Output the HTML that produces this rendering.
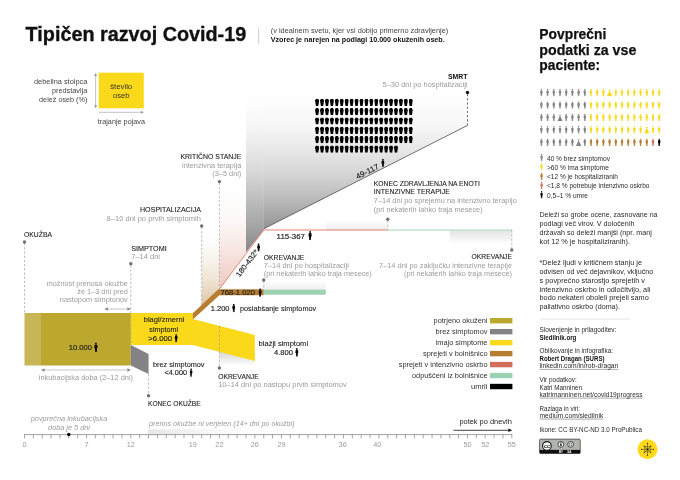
<!DOCTYPE html>
<html lang="sl"><head><meta charset="utf-8"><title>Tipičen razvoj Covid-19</title>
<style>
html,body{margin:0;padding:0;background:#fff}
body{width:680px;height:480px;overflow:hidden}
svg{display:block;will-change:transform;font-family:"Liberation Sans",sans-serif}
</style></head><body>
<svg width="680" height="480" viewBox="0 0 680 480">
<rect width="680" height="480" fill="#fff"/>
<defs>
<symbol id="p" viewBox="0 0 10 20" preserveAspectRatio="none"><circle cx="5" cy="2.3" r="2.15"/><path d="M1.8 5Q5 3.9 8.2 5L8.8 11.5 7.4 11.8 7 19.8H5.3L5 13 4.7 19.8H3L2.6 11.8 1.2 11.5z"/></symbol>
<symbol id="w" viewBox="0 0 10 20" preserveAspectRatio="none"><circle cx="5" cy="2.2" r="1.9"/><path d="M5 3.2L10 19.8H0z"/></symbol>
<symbol id="cof" viewBox="0 0 8 14"><path d="M2 0h4l2 3.6L6.2 14H1.8L0 3.6z"/></symbol>
<linearGradient id="gcol" gradientUnits="userSpaceOnUse" x1="0" y1="90" x2="0" y2="253"><stop offset="0" stop-color="#2e2e2e" stop-opacity="0"/><stop offset="0.061" stop-color="#2e2e2e" stop-opacity="0.005"/><stop offset="0.215" stop-color="#2e2e2e" stop-opacity="0.043"/><stop offset="0.368" stop-color="#2e2e2e" stop-opacity="0.11"/><stop offset="0.521" stop-color="#2e2e2e" stop-opacity="0.2"/><stop offset="0.675" stop-color="#2e2e2e" stop-opacity="0.316"/><stop offset="0.84" stop-color="#2e2e2e" stop-opacity="0.44"/><stop offset="0.92" stop-color="#2e2e2e" stop-opacity="0.512"/><stop offset="1" stop-color="#2e2e2e" stop-opacity="0.585"/></linearGradient>
<linearGradient id="gbig" gradientUnits="userSpaceOnUse" x1="0" y1="90" x2="0" y2="229"><stop offset="0" stop-color="#2e2e2e" stop-opacity="0"/><stop offset="0.072" stop-color="#2e2e2e" stop-opacity="0.005"/><stop offset="0.252" stop-color="#2e2e2e" stop-opacity="0.043"/><stop offset="0.432" stop-color="#2e2e2e" stop-opacity="0.11"/><stop offset="0.612" stop-color="#2e2e2e" stop-opacity="0.206"/><stop offset="0.791" stop-color="#2e2e2e" stop-opacity="0.335"/><stop offset="0.921" stop-color="#2e2e2e" stop-opacity="0.445"/><stop offset="1" stop-color="#2e2e2e" stop-opacity="0.52"/></linearGradient>
<linearGradient id="gpink" gradientUnits="userSpaceOnUse" x1="0" y1="190" x2="0" y2="289"><stop offset="0" stop-color="#d16e5a" stop-opacity="0"/><stop offset="0.3" stop-color="#d16e5a" stop-opacity="0.05"/><stop offset="0.6" stop-color="#d16e5a" stop-opacity="0.17"/><stop offset="0.73" stop-color="#d16e5a" stop-opacity="0.24"/><stop offset="0.91" stop-color="#d16e5a" stop-opacity="0.33"/><stop offset="1" stop-color="#d16e5a" stop-opacity="0.38"/></linearGradient>
<linearGradient id="gtan" gradientUnits="userSpaceOnUse" x1="0" y1="235" x2="0" y2="306"><stop offset="0" stop-color="#b67e33" stop-opacity="0"/><stop offset="0.14" stop-color="#b67e33" stop-opacity="0.03"/><stop offset="0.42" stop-color="#b67e33" stop-opacity="0.12"/><stop offset="0.63" stop-color="#b67e33" stop-opacity="0.21"/><stop offset="0.775" stop-color="#b67e33" stop-opacity="0.3"/><stop offset="1" stop-color="#b67e33" stop-opacity="0.45"/></linearGradient>
<linearGradient id="gdown" x1="0" y1="0" x2="0" y2="1"><stop offset="0" stop-color="#aaa" stop-opacity="0.5"/><stop offset="1" stop-color="#aaa" stop-opacity="0"/></linearGradient>
<linearGradient id="gdown2" x1="0" y1="0" x2="0" y2="1"><stop offset="0" stop-color="#aaa" stop-opacity="0.32"/><stop offset="1" stop-color="#aaa" stop-opacity="0"/></linearGradient>
<linearGradient id="gup" x1="0" y1="1" x2="0" y2="0"><stop offset="0" stop-color="#aaa" stop-opacity="0.2"/><stop offset="1" stop-color="#aaa" stop-opacity="0"/></linearGradient>
<linearGradient id="gright" x1="0" y1="0" x2="1" y2="0"><stop offset="0" stop-color="#bbb" stop-opacity="0.34"/><stop offset="1" stop-color="#bbb" stop-opacity="0"/></linearGradient>
</defs>
<text x="25.6" y="41.4" font-size="20.2" font-weight="bold" fill="#111" textLength="220.6" lengthAdjust="spacingAndGlyphs" stroke="#111" stroke-width="0.35">Tipičen razvoj Covid-19</text>
<line x1="258.7" y1="27.4" x2="258.7" y2="44" stroke="#bbb" stroke-width="0.7"/>
<text x="270.7" y="32.6" font-size="7.3" fill="#444" textLength="177.6" lengthAdjust="spacingAndGlyphs">(v idealnem svetu, kjer vsi dobijo primerno zdravljenje)</text>
<text x="270.7" y="42.2" font-size="7.3" font-weight="bold" fill="#111" textLength="174" lengthAdjust="spacingAndGlyphs">Vzorec je narejen na podlagi 10.000 okuženih oseb.</text>
<rect x="98.7" y="72.7" width="45.1" height="35.6" fill="#fad91a"/>
<text x="121.2" y="88.7" font-size="7.6" text-anchor="middle" fill="#333" textLength="22" lengthAdjust="spacingAndGlyphs">število</text>
<text x="121.2" y="97.5" font-size="7.6" text-anchor="middle" fill="#333" textLength="16.3" lengthAdjust="spacingAndGlyphs">oseb</text>
<text x="87.3" y="84" font-size="7.7" text-anchor="end" fill="#444" textLength="53.3" lengthAdjust="spacingAndGlyphs">debelina stolpca</text>
<text x="87.3" y="92.7" font-size="7.7" text-anchor="end" fill="#444" textLength="35.4" lengthAdjust="spacingAndGlyphs">predstavlja</text>
<text x="87.3" y="101.5" font-size="7.7" text-anchor="end" fill="#444" textLength="48.2" lengthAdjust="spacingAndGlyphs">delež oseb (%)</text>
<text x="97.8" y="124.4" font-size="7.5" fill="#444" textLength="47.2" lengthAdjust="spacingAndGlyphs">trajanje pojava</text>
<path d="M95.6 75v31.5" stroke="#989898" stroke-width="0.6" fill="none"/><path d="M95.6 73l1.5 3h-3zM95.6 108.3l1.5-3h-3z" fill="#989898"/>
<path d="M99 112.3h42" stroke="#989898" stroke-width="0.6" fill="none"/><path d="M143.8 112.3l-3 1.5v-3z" fill="#989898"/>
<polygon points="201.7,235 219.42,235 219.42,289.2 201.7,305.5" fill="url(#gtan)"/>
<polygon points="219.42,190 246.0,190 246.0,252.3 219.42,289" fill="url(#gpink)"/>
<polygon points="246.0,72 263.71999999999997,72 263.71999999999997,230 246.0,252.3" fill="url(#gcol)"/>
<polygon points="263.71999999999997,85 467.5,85 467.5,125.3 263.71999999999997,228.7" fill="url(#gbig)"/>
<line x1="263.71999999999997" y1="228.8" x2="467.5" y2="125.4" stroke="#333" stroke-width="0.7"/>
<rect x="219.42" y="351" width="35.44" height="15" fill="url(#gdown)"/>
<rect x="449.78" y="230.3" width="62.01999999999998" height="14" fill="url(#gdown2)"/>
<rect x="325.74" y="220.5" width="62.01999999999998" height="9.5" fill="url(#gup)"/>
<rect x="263.71999999999997" y="280.5" width="62.02000000000004" height="9.5" fill="url(#gup)"/>
<rect x="24.5" y="313" width="16.6" height="52.5" fill="#c8b556"/>
<rect x="40.9" y="313" width="89.91999999999999" height="52.5" fill="#bca72f"/>
<polygon points="130.82,345 148.54,354 148.54,374 130.82,365.5" fill="#838386"/>
<polygon points="130.82,313 192.83999999999997,313 192.83999999999997,319 254.85999999999999,335 254.85999999999999,361 192.83999999999997,345 130.82,345" fill="#fad91a"/>
<polygon points="192.83999999999997,313.2 218.3,289.2 263.71999999999997,289.2 263.71999999999997,295.2 219.3,295.2 192.83999999999997,319.5" fill="#b67e33"/>
<rect x="263.71999999999997" y="289.7" width="62.02000000000004" height="5" fill="#9ad2b2"/>
<polyline points="219.42,289.1 263.71999999999997,230 387.76,230" fill="none" stroke="#d9634d" stroke-width="0.8"/>
<line x1="387.76" y1="230" x2="511.79999999999995" y2="230" stroke="#9ad2b2" stroke-width="0.9"/>
<line x1="24.5" y1="243" x2="24.5" y2="313" stroke="#989898" stroke-width="0.65" stroke-dasharray="2.3 1.9"/>
<circle cx="24.5" cy="242" r="1.7" fill="#6f7079"/>
<line x1="130.82" y1="265" x2="130.82" y2="345" stroke="#989898" stroke-width="0.65" stroke-dasharray="2.3 1.9"/>
<circle cx="130.82" cy="263.8" r="1.7" fill="#6f7079"/>
<line x1="201.7" y1="227" x2="201.7" y2="305" stroke="#989898" stroke-width="0.65" stroke-dasharray="2.3 1.9"/>
<circle cx="201.7" cy="226" r="1.7" fill="#6f7079"/>
<line x1="219.42" y1="183" x2="219.42" y2="289" stroke="#989898" stroke-width="0.65" stroke-dasharray="2.3 1.9"/>
<line x1="219.42" y1="326" x2="219.42" y2="368" stroke="#989898" stroke-width="0.65" stroke-dasharray="2.3 1.9"/>
<circle cx="219.42" cy="181.6" r="1.7" fill="#6f7079"/>
<circle cx="219.42" cy="368" r="1.7" fill="#6f7079"/>
<line x1="263.71999999999997" y1="281" x2="263.71999999999997" y2="289" stroke="#989898" stroke-width="0.65" stroke-dasharray="2.3 1.9"/>
<circle cx="263.71999999999997" cy="280" r="1.7" fill="#6f7079"/>
<line x1="387.76" y1="220.5" x2="387.76" y2="230" stroke="#989898" stroke-width="0.65" stroke-dasharray="2.3 1.9"/>
<circle cx="387.76" cy="219.3" r="1.7" fill="#6f7079"/>
<line x1="467.5" y1="94" x2="467.5" y2="125.5" stroke="#222" stroke-width="0.65" stroke-dasharray="2.3 1.9"/>
<circle cx="467.5" cy="92.5" r="1.7" fill="#111"/>
<line x1="511.79999999999995" y1="230" x2="511.79999999999995" y2="249" stroke="#989898" stroke-width="0.65" stroke-dasharray="2.3 1.9"/>
<circle cx="511.79999999999995" cy="250" r="1.7" fill="#6f7079"/>
<line x1="148.54" y1="374" x2="148.54" y2="395" stroke="#989898" stroke-width="0.65" stroke-dasharray="2.3 1.9"/>
<circle cx="148.54" cy="395.8" r="1.7" fill="#6f7079"/>
<text x="24" y="237" font-size="7.2" fill="#1c1c1c" textLength="28" lengthAdjust="spacingAndGlyphs" stroke="#1c1c1c" stroke-width="0.1">OKUŽBA</text>
<text x="131.2" y="250.8" font-size="7.2" fill="#1c1c1c" textLength="35.5" lengthAdjust="spacingAndGlyphs" stroke="#1c1c1c" stroke-width="0.1">SIMPTOMI</text>
<text x="131.2" y="259" font-size="7.5" fill="#9b9b9b" textLength="28.8" lengthAdjust="spacingAndGlyphs">7–14 dni</text>
<text x="127.8" y="285.5" font-size="7.5" text-anchor="end" fill="#9b9b9b" textLength="81" lengthAdjust="spacingAndGlyphs">možnost prenosa okužbe</text>
<text x="127.8" y="294.2" font-size="7.5" text-anchor="end" fill="#9b9b9b" textLength="50.5" lengthAdjust="spacingAndGlyphs">že 1–3 dni pred</text>
<text x="127.8" y="302.1" font-size="7.5" text-anchor="end" fill="#9b9b9b" textLength="68" lengthAdjust="spacingAndGlyphs">nastopom simptonov</text>
<path d="M106.5 309h22.5" stroke="#989898" stroke-width="0.55"/><path d="M104.3 309l3.6-1.7v3.4zM131 309l-3.6-1.7v3.4z" fill="#8a8a8a"/>
<text x="68.8" y="350" font-size="7.7" fill="#1c1c1c" textLength="23.2" lengthAdjust="spacingAndGlyphs" stroke="#1c1c1c" stroke-width="0.15">10.000</text>
<use href="#p" x="93.80" y="342.50" width="4.28" height="9.50" preserveAspectRatio="none" fill="#000"/>
<path d="M43 370h86" stroke="#989898" stroke-width="0.55"/><path d="M41 370l3.6-1.7v3.4zM131 370l-3.6-1.7v3.4z" fill="#8a8a8a"/>
<text x="38.8" y="379.5" font-size="7.5" fill="#9b9b9b" textLength="94.2" lengthAdjust="spacingAndGlyphs">inkubacijska doba (2–12 dni)</text>
<text x="164" y="322.4" font-size="7.5" text-anchor="middle" fill="#1c1c1c" textLength="40.5" lengthAdjust="spacingAndGlyphs" stroke="#1c1c1c" stroke-width="0.1">blagi/zmerni</text>
<text x="163.7" y="331.7" font-size="7.5" text-anchor="middle" fill="#1c1c1c" textLength="28.8" lengthAdjust="spacingAndGlyphs" stroke="#1c1c1c" stroke-width="0.1">simptomi</text>
<text x="148.3" y="340.5" font-size="7.5" fill="#1c1c1c" textLength="23.7" lengthAdjust="spacingAndGlyphs" stroke="#1c1c1c" stroke-width="0.15">&gt;6.000</text>
<use href="#p" x="174.30" y="334.00" width="3.74" height="8.30" preserveAspectRatio="none" fill="#000"/>
<text x="153" y="366.6" font-size="7.5" fill="#1c1c1c" textLength="51.5" lengthAdjust="spacingAndGlyphs" stroke="#1c1c1c" stroke-width="0.1">brez simptomov</text>
<text x="164.5" y="375" font-size="7.5" fill="#1c1c1c" textLength="22.5" lengthAdjust="spacingAndGlyphs" stroke="#1c1c1c" stroke-width="0.15">&lt;4.000</text>
<use href="#p" x="189.30" y="368.20" width="3.60" height="8.70" preserveAspectRatio="none" fill="#000"/>
<text x="148" y="406" font-size="7.2" fill="#1c1c1c" textLength="52.6" lengthAdjust="spacingAndGlyphs" stroke="#1c1c1c" stroke-width="0.1">KONEC OKUŽBE</text>
<text x="218.2" y="379.1" font-size="7.2" fill="#1c1c1c" textLength="40.5" lengthAdjust="spacingAndGlyphs" stroke="#1c1c1c" stroke-width="0.1">OKREVANJE</text>
<text x="218.2" y="387.4" font-size="7.5" fill="#9b9b9b" textLength="128.5" lengthAdjust="spacingAndGlyphs">10–14 dni po nastopu prvih simptomov</text>
<text x="258.6" y="346.1" font-size="7.5" fill="#1c1c1c" textLength="49.5" lengthAdjust="spacingAndGlyphs" stroke="#1c1c1c" stroke-width="0.1">blažji simptomi</text>
<text x="274" y="355" font-size="7.5" fill="#1c1c1c" textLength="19" lengthAdjust="spacingAndGlyphs" stroke="#1c1c1c" stroke-width="0.15">4.800</text>
<use href="#p" x="294.90" y="348.00" width="3.90" height="8.80" preserveAspectRatio="none" fill="#000"/>
<text x="210.8" y="310.5" font-size="7.7" fill="#1c1c1c" textLength="18.7" lengthAdjust="spacingAndGlyphs" stroke="#1c1c1c" stroke-width="0.15">1.200</text>
<use href="#p" x="231.80" y="303.70" width="3.87" height="8.60" preserveAspectRatio="none" fill="#000"/>
<text x="240" y="310.5" font-size="7.5" fill="#1c1c1c" textLength="76.2" lengthAdjust="spacingAndGlyphs" stroke="#1c1c1c" stroke-width="0.1">poslabšanje simptomov</text>
<text x="220.4" y="294.8" font-size="7.5" fill="#1c1c1c" textLength="34.6" lengthAdjust="spacingAndGlyphs" stroke="#1c1c1c" stroke-width="0.15">768-1.020</text>
<use href="#p" x="258.20" y="288.30" width="3.87" height="8.60" preserveAspectRatio="none" fill="#000"/>
<text x="276.6" y="238.8" font-size="7.5" fill="#1c1c1c" textLength="28.4" lengthAdjust="spacingAndGlyphs" stroke="#1c1c1c" stroke-width="0.15">115-367</text>
<use href="#p" x="308.00" y="231.00" width="4.19" height="9.30" preserveAspectRatio="none" fill="#000"/>
<g transform="rotate(-53 239.5 277.5)">
<text x="239.5" y="277.5" font-size="7.5" fill="#1c1c1c" textLength="32" lengthAdjust="spacingAndGlyphs" stroke="#1c1c1c" stroke-width="0.15">180-432*</text>
</g>
<use href="#p" x="256.70" y="243.30" width="3.78" height="8.40" preserveAspectRatio="none" fill="#000"/>
<g transform="rotate(-26.6 357.5 179.3)">
<text x="357.5" y="179.3" font-size="7.5" fill="#1c1c1c" textLength="24.5" lengthAdjust="spacingAndGlyphs" stroke="#1c1c1c" stroke-width="0.15">49-117</text>
</g>
<use href="#p" x="381.00" y="158.70" width="3.83" height="8.50" preserveAspectRatio="none" fill="#000"/>
<text x="263.8" y="259.5" font-size="7.2" fill="#1c1c1c" textLength="40.5" lengthAdjust="spacingAndGlyphs" stroke="#1c1c1c" stroke-width="0.1">OKREVANJE</text>
<text x="263.8" y="268" font-size="7.5" fill="#9b9b9b" textLength="85" lengthAdjust="spacingAndGlyphs">7–14 dni po hospitalizaciji</text>
<text x="263.8" y="275.8" font-size="7.5" fill="#9b9b9b" textLength="108" lengthAdjust="spacingAndGlyphs">(pri nekaterih lahko traja mesece)</text>
<text x="201" y="212.3" font-size="7.2" text-anchor="end" fill="#1c1c1c" textLength="61" lengthAdjust="spacingAndGlyphs" stroke="#1c1c1c" stroke-width="0.1">HOSPITALIZACIJA</text>
<text x="201" y="220.8" font-size="7.5" text-anchor="end" fill="#9b9b9b" textLength="94.4" lengthAdjust="spacingAndGlyphs">8–10 dni po prvih simptomih</text>
<text x="241.3" y="158.6" font-size="7.2" text-anchor="end" fill="#1c1c1c" textLength="60.8" lengthAdjust="spacingAndGlyphs" stroke="#1c1c1c" stroke-width="0.1">KRITIČNO STANJE</text>
<text x="241.3" y="167.6" font-size="7.5" text-anchor="end" fill="#9b9b9b" textLength="59.3" lengthAdjust="spacingAndGlyphs">intenzivna terapija</text>
<text x="241.3" y="175.8" font-size="7.5" text-anchor="end" fill="#9b9b9b" textLength="29" lengthAdjust="spacingAndGlyphs">(3–5 dni)</text>
<text x="467.5" y="79" font-size="7.4" text-anchor="end" font-weight="bold" fill="#111" textLength="19.5" lengthAdjust="spacingAndGlyphs">SMRT</text>
<text x="467.5" y="87.3" font-size="7.5" text-anchor="end" fill="#9b9b9b" textLength="85" lengthAdjust="spacingAndGlyphs">5–30 dni po hospitalizaciji</text>
<text x="373.8" y="185.8" font-size="7.2" fill="#1c1c1c" textLength="106" lengthAdjust="spacingAndGlyphs" stroke="#1c1c1c" stroke-width="0.1">KONEC ZDRAVLJENJA NA ENOTI</text>
<text x="373.8" y="193.8" font-size="7.2" fill="#1c1c1c" textLength="76" lengthAdjust="spacingAndGlyphs" stroke="#1c1c1c" stroke-width="0.1">INTENZIVNE TERAPIJE</text>
<text x="373.8" y="203.4" font-size="7.5" fill="#9b9b9b" textLength="143" lengthAdjust="spacingAndGlyphs">7–14 dni po sprejemu na intenzivno terapijo</text>
<text x="373.8" y="211.7" font-size="7.5" fill="#9b9b9b" textLength="108.8" lengthAdjust="spacingAndGlyphs">(pri nekaterih lahko traja mesece)</text>
<text x="512" y="259" font-size="7.2" text-anchor="end" fill="#1c1c1c" textLength="40.5" lengthAdjust="spacingAndGlyphs" stroke="#1c1c1c" stroke-width="0.1">OKREVANJE</text>
<text x="512" y="267.7" font-size="7.5" text-anchor="end" fill="#9b9b9b" textLength="133" lengthAdjust="spacingAndGlyphs">7–14 dni po zaključku intenzivne terapije</text>
<text x="512" y="275.5" font-size="7.5" text-anchor="end" fill="#9b9b9b" textLength="108" lengthAdjust="spacingAndGlyphs">(pri nekaterih lahko traja mesece)</text>
<use href="#cof" x="315.00" y="98.70" width="4.2" height="7.2"/>
<use href="#cof" x="319.93" y="98.70" width="4.2" height="7.2"/>
<use href="#cof" x="324.86" y="98.70" width="4.2" height="7.2"/>
<use href="#cof" x="329.79" y="98.70" width="4.2" height="7.2"/>
<use href="#cof" x="334.72" y="98.70" width="4.2" height="7.2"/>
<use href="#cof" x="339.65" y="98.70" width="4.2" height="7.2"/>
<use href="#cof" x="344.58" y="98.70" width="4.2" height="7.2"/>
<use href="#cof" x="349.51" y="98.70" width="4.2" height="7.2"/>
<use href="#cof" x="354.44" y="98.70" width="4.2" height="7.2"/>
<use href="#cof" x="359.37" y="98.70" width="4.2" height="7.2"/>
<use href="#cof" x="364.30" y="98.70" width="4.2" height="7.2"/>
<use href="#cof" x="369.23" y="98.70" width="4.2" height="7.2"/>
<use href="#cof" x="374.16" y="98.70" width="4.2" height="7.2"/>
<use href="#cof" x="379.09" y="98.70" width="4.2" height="7.2"/>
<use href="#cof" x="384.02" y="98.70" width="4.2" height="7.2"/>
<use href="#cof" x="388.95" y="98.70" width="4.2" height="7.2"/>
<use href="#cof" x="393.88" y="98.70" width="4.2" height="7.2"/>
<use href="#cof" x="398.81" y="98.70" width="4.2" height="7.2"/>
<use href="#cof" x="403.74" y="98.70" width="4.2" height="7.2"/>
<use href="#cof" x="408.67" y="98.70" width="4.2" height="7.2"/>
<use href="#cof" x="315.00" y="108.05" width="4.2" height="7.2"/>
<use href="#cof" x="319.93" y="108.05" width="4.2" height="7.2"/>
<use href="#cof" x="324.86" y="108.05" width="4.2" height="7.2"/>
<use href="#cof" x="329.79" y="108.05" width="4.2" height="7.2"/>
<use href="#cof" x="334.72" y="108.05" width="4.2" height="7.2"/>
<use href="#cof" x="339.65" y="108.05" width="4.2" height="7.2"/>
<use href="#cof" x="344.58" y="108.05" width="4.2" height="7.2"/>
<use href="#cof" x="349.51" y="108.05" width="4.2" height="7.2"/>
<use href="#cof" x="354.44" y="108.05" width="4.2" height="7.2"/>
<use href="#cof" x="359.37" y="108.05" width="4.2" height="7.2"/>
<use href="#cof" x="364.30" y="108.05" width="4.2" height="7.2"/>
<use href="#cof" x="369.23" y="108.05" width="4.2" height="7.2"/>
<use href="#cof" x="374.16" y="108.05" width="4.2" height="7.2"/>
<use href="#cof" x="379.09" y="108.05" width="4.2" height="7.2"/>
<use href="#cof" x="384.02" y="108.05" width="4.2" height="7.2"/>
<use href="#cof" x="388.95" y="108.05" width="4.2" height="7.2"/>
<use href="#cof" x="393.88" y="108.05" width="4.2" height="7.2"/>
<use href="#cof" x="398.81" y="108.05" width="4.2" height="7.2"/>
<use href="#cof" x="403.74" y="108.05" width="4.2" height="7.2"/>
<use href="#cof" x="408.67" y="108.05" width="4.2" height="7.2"/>
<use href="#cof" x="315.00" y="117.40" width="4.2" height="7.2"/>
<use href="#cof" x="319.93" y="117.40" width="4.2" height="7.2"/>
<use href="#cof" x="324.86" y="117.40" width="4.2" height="7.2"/>
<use href="#cof" x="329.79" y="117.40" width="4.2" height="7.2"/>
<use href="#cof" x="334.72" y="117.40" width="4.2" height="7.2"/>
<use href="#cof" x="339.65" y="117.40" width="4.2" height="7.2"/>
<use href="#cof" x="344.58" y="117.40" width="4.2" height="7.2"/>
<use href="#cof" x="349.51" y="117.40" width="4.2" height="7.2"/>
<use href="#cof" x="354.44" y="117.40" width="4.2" height="7.2"/>
<use href="#cof" x="359.37" y="117.40" width="4.2" height="7.2"/>
<use href="#cof" x="364.30" y="117.40" width="4.2" height="7.2"/>
<use href="#cof" x="369.23" y="117.40" width="4.2" height="7.2"/>
<use href="#cof" x="374.16" y="117.40" width="4.2" height="7.2"/>
<use href="#cof" x="379.09" y="117.40" width="4.2" height="7.2"/>
<use href="#cof" x="384.02" y="117.40" width="4.2" height="7.2"/>
<use href="#cof" x="388.95" y="117.40" width="4.2" height="7.2"/>
<use href="#cof" x="393.88" y="117.40" width="4.2" height="7.2"/>
<use href="#cof" x="398.81" y="117.40" width="4.2" height="7.2"/>
<use href="#cof" x="403.74" y="117.40" width="4.2" height="7.2"/>
<use href="#cof" x="408.67" y="117.40" width="4.2" height="7.2"/>
<use href="#cof" x="315.00" y="126.75" width="4.2" height="7.2"/>
<use href="#cof" x="319.93" y="126.75" width="4.2" height="7.2"/>
<use href="#cof" x="324.86" y="126.75" width="4.2" height="7.2"/>
<use href="#cof" x="329.79" y="126.75" width="4.2" height="7.2"/>
<use href="#cof" x="334.72" y="126.75" width="4.2" height="7.2"/>
<use href="#cof" x="339.65" y="126.75" width="4.2" height="7.2"/>
<use href="#cof" x="344.58" y="126.75" width="4.2" height="7.2"/>
<use href="#cof" x="349.51" y="126.75" width="4.2" height="7.2"/>
<use href="#cof" x="354.44" y="126.75" width="4.2" height="7.2"/>
<use href="#cof" x="359.37" y="126.75" width="4.2" height="7.2"/>
<use href="#cof" x="364.30" y="126.75" width="4.2" height="7.2"/>
<use href="#cof" x="369.23" y="126.75" width="4.2" height="7.2"/>
<use href="#cof" x="374.16" y="126.75" width="4.2" height="7.2"/>
<use href="#cof" x="379.09" y="126.75" width="4.2" height="7.2"/>
<use href="#cof" x="384.02" y="126.75" width="4.2" height="7.2"/>
<use href="#cof" x="388.95" y="126.75" width="4.2" height="7.2"/>
<use href="#cof" x="393.88" y="126.75" width="4.2" height="7.2"/>
<use href="#cof" x="398.81" y="126.75" width="4.2" height="7.2"/>
<use href="#cof" x="403.74" y="126.75" width="4.2" height="7.2"/>
<use href="#cof" x="408.67" y="126.75" width="4.2" height="7.2"/>
<use href="#cof" x="315.00" y="136.10" width="4.2" height="7.2"/>
<use href="#cof" x="319.93" y="136.10" width="4.2" height="7.2"/>
<use href="#cof" x="324.86" y="136.10" width="4.2" height="7.2"/>
<use href="#cof" x="329.79" y="136.10" width="4.2" height="7.2"/>
<use href="#cof" x="334.72" y="136.10" width="4.2" height="7.2"/>
<use href="#cof" x="339.65" y="136.10" width="4.2" height="7.2"/>
<use href="#cof" x="344.58" y="136.10" width="4.2" height="7.2"/>
<use href="#cof" x="349.51" y="136.10" width="4.2" height="7.2"/>
<use href="#cof" x="354.44" y="136.10" width="4.2" height="7.2"/>
<use href="#cof" x="359.37" y="136.10" width="4.2" height="7.2"/>
<use href="#cof" x="364.30" y="136.10" width="4.2" height="7.2"/>
<use href="#cof" x="369.23" y="136.10" width="4.2" height="7.2"/>
<use href="#cof" x="374.16" y="136.10" width="4.2" height="7.2"/>
<use href="#cof" x="379.09" y="136.10" width="4.2" height="7.2"/>
<use href="#cof" x="384.02" y="136.10" width="4.2" height="7.2"/>
<use href="#cof" x="388.95" y="136.10" width="4.2" height="7.2"/>
<use href="#cof" x="393.88" y="136.10" width="4.2" height="7.2"/>
<use href="#cof" x="398.81" y="136.10" width="4.2" height="7.2"/>
<use href="#cof" x="403.74" y="136.10" width="4.2" height="7.2"/>
<use href="#cof" x="408.67" y="136.10" width="4.2" height="7.2"/>
<use href="#cof" x="315.00" y="145.45" width="4.2" height="7.2"/>
<use href="#cof" x="319.93" y="145.45" width="4.2" height="7.2"/>
<use href="#cof" x="324.86" y="145.45" width="4.2" height="7.2"/>
<use href="#cof" x="329.79" y="145.45" width="4.2" height="7.2"/>
<use href="#cof" x="334.72" y="145.45" width="4.2" height="7.2"/>
<use href="#cof" x="339.65" y="145.45" width="4.2" height="7.2"/>
<use href="#cof" x="344.58" y="145.45" width="4.2" height="7.2"/>
<use href="#cof" x="349.51" y="145.45" width="4.2" height="7.2"/>
<use href="#cof" x="354.44" y="145.45" width="4.2" height="7.2"/>
<use href="#cof" x="359.37" y="145.45" width="4.2" height="7.2"/>
<use href="#cof" x="364.30" y="145.45" width="4.2" height="7.2"/>
<use href="#cof" x="369.23" y="145.45" width="4.2" height="7.2"/>
<use href="#cof" x="374.16" y="145.45" width="4.2" height="7.2"/>
<use href="#cof" x="379.09" y="145.45" width="4.2" height="7.2"/>
<use href="#cof" x="384.02" y="145.45" width="4.2" height="7.2"/>
<use href="#cof" x="388.95" y="145.45" width="4.2" height="7.2"/>
<use href="#cof" x="393.88" y="145.45" width="4.2" height="7.2"/>
<rect x="490" y="318.00" width="22.4" height="5.4" fill="#bca72f"/>
<text x="487.5" y="323.3" font-size="7.5" text-anchor="end" fill="#333" textLength="53.9" lengthAdjust="spacingAndGlyphs">potrjeno okuženi</text>
<rect x="490" y="328.97" width="22.4" height="5.4" fill="#838386"/>
<text x="487.5" y="334.27" font-size="7.5" text-anchor="end" fill="#333" textLength="51.9" lengthAdjust="spacingAndGlyphs">brez simptomov</text>
<rect x="490" y="339.94" width="22.4" height="5.4" fill="#fad91a"/>
<text x="487.5" y="345.24" font-size="7.5" text-anchor="end" fill="#333" textLength="51.9" lengthAdjust="spacingAndGlyphs">imajo simptome</text>
<rect x="490" y="350.91" width="22.4" height="5.4" fill="#b67e33"/>
<text x="487.5" y="356.21" font-size="7.5" text-anchor="end" fill="#333" textLength="64.5" lengthAdjust="spacingAndGlyphs">sprejeti v bolnišnico</text>
<rect x="490" y="361.88" width="22.4" height="5.4" fill="#d16e5a"/>
<text x="487.5" y="367.18" font-size="7.5" text-anchor="end" fill="#333" textLength="88.7" lengthAdjust="spacingAndGlyphs">sprejeti v intenzivno oskrbo</text>
<rect x="490" y="372.85" width="22.4" height="5.4" fill="#9ad2b2"/>
<text x="487.5" y="378.15" font-size="7.5" text-anchor="end" fill="#333" textLength="75.5" lengthAdjust="spacingAndGlyphs">odpuščeni iz bolnišnice</text>
<rect x="490" y="383.82" width="22.4" height="5.4" fill="#000"/>
<text x="487.5" y="389.12" font-size="7.5" text-anchor="end" fill="#333" textLength="16.6" lengthAdjust="spacingAndGlyphs">umrli</text>
<rect x="148" y="429.2" width="95" height="5.2" fill="url(#gright)"/>
<text x="69" y="421.2" font-size="7.3" text-anchor="middle" font-style="italic" fill="#9b9b9b" textLength="76.5" lengthAdjust="spacingAndGlyphs">povprečna inkubacijska</text>
<text x="69" y="430" font-size="7.3" text-anchor="middle" font-style="italic" fill="#9b9b9b">doba je 5 dni</text>
<text x="149" y="425.6" font-size="7.3" font-style="italic" fill="#9b9b9b" textLength="145.6" lengthAdjust="spacingAndGlyphs">prenos okužbe ni verjeten (14+ dni po okužbi)</text>
<line x1="24.1" y1="434.6" x2="512.1999999999999" y2="434.6" stroke="#858585" stroke-width="0.8"/>
<path d="M24.50 434.6v3.7M33.36 434.6v3.7M42.22 434.6v3.7M51.08 434.6v3.7M59.94 434.6v3.7M68.80 434.6v3.7M77.66 434.6v3.7M86.52 434.6v3.7M95.38 434.6v3.7M104.24 434.6v3.7M113.10 434.6v3.7M121.96 434.6v3.7M130.82 434.6v3.7M139.68 434.6v3.7M148.54 434.6v3.7M157.40 434.6v3.7M166.26 434.6v3.7M175.12 434.6v3.7M183.98 434.6v3.7M192.84 434.6v3.7M201.70 434.6v3.7M210.56 434.6v3.7M219.42 434.6v3.7M228.28 434.6v3.7M237.14 434.6v3.7M246.00 434.6v3.7M254.86 434.6v3.7M263.72 434.6v3.7M272.58 434.6v3.7M281.44 434.6v3.7M290.30 434.6v3.7M299.16 434.6v3.7M308.02 434.6v3.7M316.88 434.6v3.7M325.74 434.6v3.7M334.60 434.6v3.7M343.46 434.6v3.7M352.32 434.6v3.7M361.18 434.6v3.7M370.04 434.6v3.7M378.90 434.6v3.7M387.76 434.6v3.7M396.62 434.6v3.7M405.48 434.6v3.7M414.34 434.6v3.7M423.20 434.6v3.7M432.06 434.6v3.7M440.92 434.6v3.7M449.78 434.6v3.7M458.64 434.6v3.7M467.50 434.6v3.7M476.36 434.6v3.7M485.22 434.6v3.7M494.08 434.6v3.7M502.94 434.6v3.7M511.80 434.6v3.7" stroke="#8f8f8f" stroke-width="0.8" fill="none"/>
<text x="24.5" y="446.8" font-size="7.3" text-anchor="middle" fill="#9b9b9b">0</text>
<text x="86.52" y="446.8" font-size="7.3" text-anchor="middle" fill="#9b9b9b">7</text>
<text x="130.82" y="446.8" font-size="7.3" text-anchor="middle" fill="#9b9b9b">12</text>
<text x="192.84" y="446.8" font-size="7.3" text-anchor="middle" fill="#9b9b9b">19</text>
<text x="219.42" y="446.8" font-size="7.3" text-anchor="middle" fill="#9b9b9b">22</text>
<text x="254.86" y="446.8" font-size="7.3" text-anchor="middle" fill="#9b9b9b">26</text>
<text x="281.44" y="446.8" font-size="7.3" text-anchor="middle" fill="#9b9b9b">29</text>
<text x="342.66" y="446.8" font-size="7.3" text-anchor="middle" fill="#9b9b9b">36</text>
<text x="377.3" y="446.8" font-size="7.3" text-anchor="middle" fill="#9b9b9b">40</text>
<text x="467.5" y="446.8" font-size="7.3" text-anchor="middle" fill="#9b9b9b">50</text>
<text x="485.22" y="446.8" font-size="7.3" text-anchor="middle" fill="#9b9b9b">52</text>
<text x="511.8" y="446.8" font-size="7.3" text-anchor="middle" fill="#9b9b9b">55</text>
<circle cx="68.8" cy="434.5" r="1.7" fill="#000"/>
<text x="511.8" y="424.4" font-size="7.5" text-anchor="end" fill="#222" textLength="52.4" lengthAdjust="spacingAndGlyphs">potek po dnevih</text>
<path d="M453.5 430.3h55" stroke="#111" stroke-width="0.8"/><path d="M512.3 430.3l-4-1.8v3.6z" fill="#111"/>
<text x="539.3" y="38.8" font-size="14" font-weight="bold" fill="#111" textLength="67" lengthAdjust="spacingAndGlyphs" stroke="#111" stroke-width="0.25">Povprečni</text>
<text x="539.3" y="54.9" font-size="14" font-weight="bold" fill="#111" textLength="97" lengthAdjust="spacingAndGlyphs" stroke="#111" stroke-width="0.25">podatki za vse</text>
<text x="539.3" y="70.3" font-size="14" font-weight="bold" fill="#111" textLength="60.8" lengthAdjust="spacingAndGlyphs" stroke="#111" stroke-width="0.25">paciente:</text>
<use href="#p" x="539.70" y="88.80" width="3.40" height="7.60" preserveAspectRatio="none" fill="#838386"/>
<use href="#p" x="545.90" y="88.80" width="3.40" height="7.60" preserveAspectRatio="none" fill="#838386"/>
<use href="#p" x="552.10" y="88.80" width="3.40" height="7.60" preserveAspectRatio="none" fill="#838386"/>
<use href="#p" x="558.30" y="88.80" width="3.40" height="7.60" preserveAspectRatio="none" fill="#838386"/>
<use href="#p" x="564.50" y="88.80" width="3.40" height="7.60" preserveAspectRatio="none" fill="#838386"/>
<use href="#p" x="570.70" y="88.80" width="3.40" height="7.60" preserveAspectRatio="none" fill="#838386"/>
<use href="#p" x="576.90" y="88.80" width="3.40" height="7.60" preserveAspectRatio="none" fill="#838386"/>
<use href="#p" x="583.10" y="88.80" width="3.40" height="7.60" preserveAspectRatio="none" fill="#838386"/>
<use href="#p" x="589.30" y="88.80" width="3.40" height="7.60" preserveAspectRatio="none" fill="#fad91a"/>
<use href="#p" x="595.50" y="88.80" width="3.40" height="7.60" preserveAspectRatio="none" fill="#fad91a"/>
<use href="#p" x="601.70" y="88.80" width="3.40" height="7.60" preserveAspectRatio="none" fill="#fad91a"/>
<use href="#w" x="606.90" y="89.50" width="5.40" height="6.90" preserveAspectRatio="none" fill="#fad91a"/>
<use href="#p" x="614.10" y="88.80" width="3.40" height="7.60" preserveAspectRatio="none" fill="#fad91a"/>
<use href="#p" x="620.30" y="88.80" width="3.40" height="7.60" preserveAspectRatio="none" fill="#fad91a"/>
<use href="#p" x="626.50" y="88.80" width="3.40" height="7.60" preserveAspectRatio="none" fill="#fad91a"/>
<use href="#p" x="632.70" y="88.80" width="3.40" height="7.60" preserveAspectRatio="none" fill="#fad91a"/>
<use href="#p" x="638.90" y="88.80" width="3.40" height="7.60" preserveAspectRatio="none" fill="#fad91a"/>
<use href="#p" x="645.10" y="88.80" width="3.40" height="7.60" preserveAspectRatio="none" fill="#fad91a"/>
<use href="#p" x="651.30" y="88.80" width="3.40" height="7.60" preserveAspectRatio="none" fill="#fad91a"/>
<use href="#p" x="657.50" y="88.80" width="3.40" height="7.60" preserveAspectRatio="none" fill="#fad91a"/>
<use href="#p" x="539.70" y="101.20" width="3.40" height="7.60" preserveAspectRatio="none" fill="#838386"/>
<use href="#p" x="545.90" y="101.20" width="3.40" height="7.60" preserveAspectRatio="none" fill="#838386"/>
<use href="#p" x="552.10" y="101.20" width="3.40" height="7.60" preserveAspectRatio="none" fill="#838386"/>
<use href="#p" x="558.30" y="101.20" width="3.40" height="7.60" preserveAspectRatio="none" fill="#838386"/>
<use href="#p" x="564.50" y="101.20" width="3.40" height="7.60" preserveAspectRatio="none" fill="#838386"/>
<use href="#p" x="570.70" y="101.20" width="3.40" height="7.60" preserveAspectRatio="none" fill="#838386"/>
<use href="#p" x="576.90" y="101.20" width="3.40" height="7.60" preserveAspectRatio="none" fill="#838386"/>
<use href="#p" x="583.10" y="101.20" width="3.40" height="7.60" preserveAspectRatio="none" fill="#838386"/>
<use href="#p" x="589.30" y="101.20" width="3.40" height="7.60" preserveAspectRatio="none" fill="#fad91a"/>
<use href="#p" x="595.50" y="101.20" width="3.40" height="7.60" preserveAspectRatio="none" fill="#fad91a"/>
<use href="#p" x="601.70" y="101.20" width="3.40" height="7.60" preserveAspectRatio="none" fill="#fad91a"/>
<use href="#p" x="607.90" y="101.20" width="3.40" height="7.60" preserveAspectRatio="none" fill="#fad91a"/>
<use href="#p" x="614.10" y="101.20" width="3.40" height="7.60" preserveAspectRatio="none" fill="#fad91a"/>
<use href="#p" x="620.30" y="101.20" width="3.40" height="7.60" preserveAspectRatio="none" fill="#fad91a"/>
<use href="#p" x="626.50" y="101.20" width="3.40" height="7.60" preserveAspectRatio="none" fill="#fad91a"/>
<use href="#p" x="632.70" y="101.20" width="3.40" height="7.60" preserveAspectRatio="none" fill="#fad91a"/>
<use href="#p" x="638.90" y="101.20" width="3.40" height="7.60" preserveAspectRatio="none" fill="#fad91a"/>
<use href="#p" x="645.10" y="101.20" width="3.40" height="7.60" preserveAspectRatio="none" fill="#fad91a"/>
<use href="#p" x="651.30" y="101.20" width="3.40" height="7.60" preserveAspectRatio="none" fill="#fad91a"/>
<use href="#p" x="657.50" y="101.20" width="3.40" height="7.60" preserveAspectRatio="none" fill="#fad91a"/>
<use href="#p" x="539.70" y="113.60" width="3.40" height="7.60" preserveAspectRatio="none" fill="#838386"/>
<use href="#p" x="545.90" y="113.60" width="3.40" height="7.60" preserveAspectRatio="none" fill="#838386"/>
<use href="#p" x="552.10" y="113.60" width="3.40" height="7.60" preserveAspectRatio="none" fill="#838386"/>
<use href="#w" x="557.30" y="114.30" width="5.40" height="6.90" preserveAspectRatio="none" fill="#838386"/>
<use href="#p" x="564.50" y="113.60" width="3.40" height="7.60" preserveAspectRatio="none" fill="#838386"/>
<use href="#p" x="570.70" y="113.60" width="3.40" height="7.60" preserveAspectRatio="none" fill="#838386"/>
<use href="#p" x="576.90" y="113.60" width="3.40" height="7.60" preserveAspectRatio="none" fill="#838386"/>
<use href="#p" x="583.10" y="113.60" width="3.40" height="7.60" preserveAspectRatio="none" fill="#838386"/>
<use href="#p" x="589.30" y="113.60" width="3.40" height="7.60" preserveAspectRatio="none" fill="#fad91a"/>
<use href="#p" x="595.50" y="113.60" width="3.40" height="7.60" preserveAspectRatio="none" fill="#fad91a"/>
<use href="#p" x="601.70" y="113.60" width="3.40" height="7.60" preserveAspectRatio="none" fill="#fad91a"/>
<use href="#p" x="607.90" y="113.60" width="3.40" height="7.60" preserveAspectRatio="none" fill="#fad91a"/>
<use href="#p" x="614.10" y="113.60" width="3.40" height="7.60" preserveAspectRatio="none" fill="#fad91a"/>
<use href="#p" x="620.30" y="113.60" width="3.40" height="7.60" preserveAspectRatio="none" fill="#fad91a"/>
<use href="#p" x="626.50" y="113.60" width="3.40" height="7.60" preserveAspectRatio="none" fill="#fad91a"/>
<use href="#p" x="632.70" y="113.60" width="3.40" height="7.60" preserveAspectRatio="none" fill="#fad91a"/>
<use href="#p" x="638.90" y="113.60" width="3.40" height="7.60" preserveAspectRatio="none" fill="#fad91a"/>
<use href="#p" x="645.10" y="113.60" width="3.40" height="7.60" preserveAspectRatio="none" fill="#fad91a"/>
<use href="#p" x="651.30" y="113.60" width="3.40" height="7.60" preserveAspectRatio="none" fill="#fad91a"/>
<use href="#p" x="657.50" y="113.60" width="3.40" height="7.60" preserveAspectRatio="none" fill="#fad91a"/>
<use href="#p" x="539.70" y="126.00" width="3.40" height="7.60" preserveAspectRatio="none" fill="#838386"/>
<use href="#p" x="545.90" y="126.00" width="3.40" height="7.60" preserveAspectRatio="none" fill="#838386"/>
<use href="#p" x="552.10" y="126.00" width="3.40" height="7.60" preserveAspectRatio="none" fill="#838386"/>
<use href="#p" x="558.30" y="126.00" width="3.40" height="7.60" preserveAspectRatio="none" fill="#838386"/>
<use href="#p" x="564.50" y="126.00" width="3.40" height="7.60" preserveAspectRatio="none" fill="#838386"/>
<use href="#p" x="570.70" y="126.00" width="3.40" height="7.60" preserveAspectRatio="none" fill="#838386"/>
<use href="#p" x="576.90" y="126.00" width="3.40" height="7.60" preserveAspectRatio="none" fill="#838386"/>
<use href="#p" x="583.10" y="126.00" width="3.40" height="7.60" preserveAspectRatio="none" fill="#838386"/>
<use href="#p" x="589.30" y="126.00" width="3.40" height="7.60" preserveAspectRatio="none" fill="#fad91a"/>
<use href="#p" x="595.50" y="126.00" width="3.40" height="7.60" preserveAspectRatio="none" fill="#fad91a"/>
<use href="#p" x="601.70" y="126.00" width="3.40" height="7.60" preserveAspectRatio="none" fill="#fad91a"/>
<use href="#p" x="607.90" y="126.00" width="3.40" height="7.60" preserveAspectRatio="none" fill="#fad91a"/>
<use href="#p" x="614.10" y="126.00" width="3.40" height="7.60" preserveAspectRatio="none" fill="#fad91a"/>
<use href="#p" x="620.30" y="126.00" width="3.40" height="7.60" preserveAspectRatio="none" fill="#fad91a"/>
<use href="#p" x="626.50" y="126.00" width="3.40" height="7.60" preserveAspectRatio="none" fill="#fad91a"/>
<use href="#p" x="632.70" y="126.00" width="3.40" height="7.60" preserveAspectRatio="none" fill="#fad91a"/>
<use href="#p" x="638.90" y="126.00" width="3.40" height="7.60" preserveAspectRatio="none" fill="#fad91a"/>
<use href="#w" x="644.10" y="126.70" width="5.40" height="6.90" preserveAspectRatio="none" fill="#fad91a"/>
<use href="#p" x="651.30" y="126.00" width="3.40" height="7.60" preserveAspectRatio="none" fill="#fad91a"/>
<use href="#p" x="657.50" y="126.00" width="3.40" height="7.60" preserveAspectRatio="none" fill="#fad91a"/>
<use href="#p" x="539.70" y="138.40" width="3.40" height="7.60" preserveAspectRatio="none" fill="#838386"/>
<use href="#p" x="545.90" y="138.40" width="3.40" height="7.60" preserveAspectRatio="none" fill="#838386"/>
<use href="#p" x="552.10" y="138.40" width="3.40" height="7.60" preserveAspectRatio="none" fill="#838386"/>
<use href="#p" x="558.30" y="138.40" width="3.40" height="7.60" preserveAspectRatio="none" fill="#838386"/>
<use href="#p" x="564.50" y="138.40" width="3.40" height="7.60" preserveAspectRatio="none" fill="#838386"/>
<use href="#p" x="570.70" y="138.40" width="3.40" height="7.60" preserveAspectRatio="none" fill="#838386"/>
<use href="#w" x="575.90" y="139.10" width="5.40" height="6.90" preserveAspectRatio="none" fill="#838386"/>
<use href="#p" x="583.10" y="138.40" width="3.40" height="7.60" preserveAspectRatio="none" fill="#838386"/>
<use href="#p" x="589.30" y="138.40" width="3.40" height="7.60" preserveAspectRatio="none" fill="#b67e33"/>
<use href="#p" x="595.50" y="138.40" width="3.40" height="7.60" preserveAspectRatio="none" fill="#b67e33"/>
<use href="#p" x="601.70" y="138.40" width="3.40" height="7.60" preserveAspectRatio="none" fill="#b67e33"/>
<use href="#p" x="607.90" y="138.40" width="3.40" height="7.60" preserveAspectRatio="none" fill="#b67e33"/>
<use href="#p" x="614.10" y="138.40" width="3.40" height="7.60" preserveAspectRatio="none" fill="#b67e33"/>
<use href="#p" x="620.30" y="138.40" width="3.40" height="7.60" preserveAspectRatio="none" fill="#b67e33"/>
<use href="#p" x="626.50" y="138.40" width="3.40" height="7.60" preserveAspectRatio="none" fill="#b67e33"/>
<use href="#p" x="632.70" y="138.40" width="3.40" height="7.60" preserveAspectRatio="none" fill="#b67e33"/>
<use href="#p" x="638.90" y="138.40" width="3.40" height="7.60" preserveAspectRatio="none" fill="#b67e33"/>
<use href="#p" x="645.10" y="138.40" width="3.40" height="7.60" preserveAspectRatio="none" fill="#b67e33"/>
<use href="#p" x="651.30" y="138.40" width="3.40" height="7.60" preserveAspectRatio="none" fill="#d16e5a"/>
<use href="#p" x="657.50" y="138.40" width="3.40" height="7.60" preserveAspectRatio="none" fill="#000"/>
<use href="#p" x="540.00" y="153.80" width="3.20" height="7.60" preserveAspectRatio="none" fill="#838386"/>
<text x="547" y="160.5" font-size="6.9" fill="#2a2a2a" textLength="63" lengthAdjust="spacingAndGlyphs">40 % brez simptomov</text>
<use href="#p" x="540.00" y="163.10" width="3.20" height="7.60" preserveAspectRatio="none" fill="#fad91a"/>
<text x="547" y="169.8" font-size="6.9" fill="#2a2a2a" textLength="61.8" lengthAdjust="spacingAndGlyphs">&gt;60 % ima simptome</text>
<use href="#p" x="540.00" y="172.40" width="3.20" height="7.60" preserveAspectRatio="none" fill="#b67e33"/>
<text x="547" y="179.1" font-size="6.9" fill="#2a2a2a" textLength="71" lengthAdjust="spacingAndGlyphs">&lt;12 % je hospitaliziranih</text>
<use href="#p" x="540.00" y="181.70" width="3.20" height="7.60" preserveAspectRatio="none" fill="#d16e5a"/>
<text x="547" y="188.4" font-size="6.9" fill="#2a2a2a" textLength="102.5" lengthAdjust="spacingAndGlyphs">&lt;1,8 % potrebuje intenzivno oskrbo</text>
<use href="#p" x="540.00" y="191.00" width="3.20" height="7.60" preserveAspectRatio="none" fill="#000"/>
<text x="547" y="197.7" font-size="6.9" fill="#2a2a2a" textLength="41" lengthAdjust="spacingAndGlyphs">0,5–1 % umre</text>
<text x="539.5" y="217.4" font-size="7.3" fill="#2a2a2a" textLength="118" lengthAdjust="spacingAndGlyphs">Deleži so grobe ocene, zasnovane na</text>
<text x="539.5" y="226.2" font-size="7.3" fill="#2a2a2a" textLength="95" lengthAdjust="spacingAndGlyphs">podlagi več virov. V določenih</text>
<text x="539.5" y="235.0" font-size="7.3" fill="#2a2a2a" textLength="112.3" lengthAdjust="spacingAndGlyphs">državah so deleži manjši (npr. manj</text>
<text x="539.5" y="243.8" font-size="7.3" fill="#2a2a2a" textLength="90.5" lengthAdjust="spacingAndGlyphs">kot 12 % je hospitaliziranih).</text>
<text x="539.5" y="265.0" font-size="7.3" fill="#2a2a2a" textLength="102.5" lengthAdjust="spacingAndGlyphs">*Delež ljudi v kritičnem stanju je</text>
<text x="539.5" y="273.85" font-size="7.3" fill="#2a2a2a" textLength="113.8" lengthAdjust="spacingAndGlyphs">odvisen od več dejavnikov, vključno</text>
<text x="539.5" y="282.7" font-size="7.3" fill="#2a2a2a" textLength="105.5" lengthAdjust="spacingAndGlyphs">s povprečno starostjo sprejetih v</text>
<text x="539.5" y="291.55" font-size="7.3" fill="#2a2a2a" textLength="111" lengthAdjust="spacingAndGlyphs">intenzivno oskrbo in odločitvijo, ali</text>
<text x="539.5" y="300.4" font-size="7.3" fill="#2a2a2a" textLength="109.3" lengthAdjust="spacingAndGlyphs">bodo nekateri oboleli prejeli samo</text>
<text x="539.5" y="309.25" font-size="7.3" fill="#2a2a2a" textLength="80.5" lengthAdjust="spacingAndGlyphs">paliativno oskrbo (doma).</text>
<line x1="539.5" y1="319" x2="630.8" y2="319" stroke="#d4d4d4" stroke-width="0.6"/>
<text x="539.5" y="332" font-size="6.7" fill="#2a2a2a" textLength="76.8" lengthAdjust="spacingAndGlyphs">Slovenjenje in prilagoditev:</text>
<text x="539.5" y="340" font-size="6.7" font-weight="bold" fill="#111" textLength="36.8" lengthAdjust="spacingAndGlyphs">Sledilnik.org</text>
<text x="539.5" y="352.5" font-size="6.7" fill="#2a2a2a" textLength="73.5" lengthAdjust="spacingAndGlyphs">Oblikovanje in infografika:</text>
<text x="539.5" y="360.8" font-size="6.7" font-weight="bold" fill="#111" textLength="65" lengthAdjust="spacingAndGlyphs">Robert Dragan (SURS)</text>
<text x="539.5" y="368.3" font-size="6.7" fill="#2a2a2a" textLength="78.8" lengthAdjust="spacingAndGlyphs">linkedin.com/in/rob-dragan</text>
<line x1="539.5" y1="369.40000000000003" x2="618.3" y2="369.40000000000003" stroke="#444" stroke-width="0.45"/>
<text x="539.5" y="381.8" font-size="6.7" fill="#2a2a2a" textLength="37.3" lengthAdjust="spacingAndGlyphs">Vir podatkov:</text>
<text x="539.5" y="389.5" font-size="6.7" fill="#2a2a2a" textLength="42.5" lengthAdjust="spacingAndGlyphs">Katri Manninen</text>
<text x="539.5" y="397" font-size="6.7" fill="#2a2a2a" textLength="103" lengthAdjust="spacingAndGlyphs">katrimanninen.net/covid19progress</text>
<line x1="539.5" y1="398.1" x2="642.5" y2="398.1" stroke="#444" stroke-width="0.45"/>
<text x="539.5" y="410.5" font-size="6.7" fill="#2a2a2a" textLength="40.5" lengthAdjust="spacingAndGlyphs">Razlaga in viri:</text>
<text x="539.5" y="418" font-size="6.7" fill="#2a2a2a" textLength="63.8" lengthAdjust="spacingAndGlyphs">medium.com/sledilnik</text>
<line x1="539.5" y1="419.1" x2="603.3" y2="419.1" stroke="#444" stroke-width="0.45"/>
<text x="539.5" y="431.9" font-size="6.7" fill="#2a2a2a" textLength="102.5" lengthAdjust="spacingAndGlyphs">Ikone: CC BY-NC-ND 3.0 ProPublica</text>
<g><rect x="539.5" y="439.1" width="40.8" height="14.4" rx="1.3" fill="#aeb3ac" stroke="#111" stroke-width="0.55"/><rect x="539.7" y="449.9" width="40.4" height="3.5" fill="#111"/><circle cx="546.9" cy="445.9" r="4.3" fill="#fff" stroke="#111" stroke-width="1.15"/><text x="546.9" y="447.7" font-size="5.4" font-weight="bold" text-anchor="middle" fill="#111" textLength="6" lengthAdjust="spacingAndGlyphs">cc</text><circle cx="560.9" cy="444.4" r="2.9" fill="#fff" stroke="#111" stroke-width="0.75"/><circle cx="570.6" cy="444.4" r="2.9" fill="#fff" stroke="#111" stroke-width="0.75"/><circle cx="560.9" cy="442.8" r="0.6" fill="#111"/><rect x="560.2" y="443.6" width="1.4" height="2.6" fill="#111"/><circle cx="570.6" cy="444.4" r="1.4" fill="none" stroke="#111" stroke-width="0.6"/><text x="560.9" y="452.9" font-size="2.9" font-weight="bold" text-anchor="middle" fill="#fff">BY</text><text x="569.3" y="452.9" font-size="2.9" font-weight="bold" text-anchor="middle" fill="#fff">SA</text></g>
<circle cx="647.5" cy="449.3" r="10" fill="#ffd91c"/><line x1="647.5" y1="449.3" x2="653.40" y2="449.30" stroke="#222" stroke-width="0.45"/><circle cx="653.40" cy="449.30" r="0.6" fill="#222"/><line x1="647.5" y1="449.3" x2="650.82" y2="452.62" stroke="#222" stroke-width="0.45"/><circle cx="650.82" cy="452.62" r="0.6" fill="#222"/><line x1="647.5" y1="449.3" x2="647.50" y2="455.20" stroke="#222" stroke-width="0.45"/><circle cx="647.50" cy="455.20" r="0.6" fill="#222"/><line x1="647.5" y1="449.3" x2="644.18" y2="452.62" stroke="#222" stroke-width="0.45"/><circle cx="644.18" cy="452.62" r="0.6" fill="#222"/><line x1="647.5" y1="449.3" x2="641.60" y2="449.30" stroke="#222" stroke-width="0.45"/><circle cx="641.60" cy="449.30" r="0.6" fill="#222"/><line x1="647.5" y1="449.3" x2="644.18" y2="445.98" stroke="#222" stroke-width="0.45"/><circle cx="644.18" cy="445.98" r="0.6" fill="#222"/><line x1="647.5" y1="449.3" x2="647.50" y2="443.40" stroke="#222" stroke-width="0.45"/><circle cx="647.50" cy="443.40" r="0.6" fill="#222"/><line x1="647.5" y1="449.3" x2="650.82" y2="445.98" stroke="#222" stroke-width="0.45"/><circle cx="650.82" cy="445.98" r="0.6" fill="#222"/><circle cx="647.5" cy="449.3" r="0.9" fill="#222"/><rect x="644.9" y="446.7" width="5.2" height="5.2" fill="none" stroke="#222" stroke-width="0.4"/>
</svg>
</body></html>
